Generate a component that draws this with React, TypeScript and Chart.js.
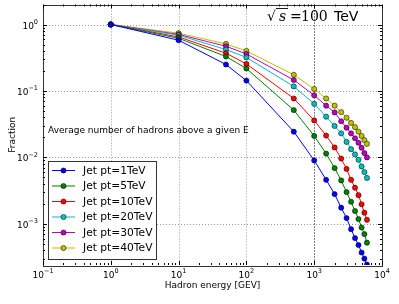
import React, { useEffect, useRef } from "react";
import { Chart, registerables } from "chart.js";
Chart.register(...registerables);

const ENERGIES = [1, 10, 50, 100, 500, 1000, 1500, 2000, 2500, 3000, 3500, 4000, 4500, 5000, 5500, 6000];
const SERIES_LABELS = ["Jet pt=1TeV", "Jet pt=5TeV", "Jet pt=10TeV", "Jet pt=20TeV", "Jet pt=30TeV", "Jet pt=40TeV"];
const SERIES_COLORS = ["#0000ff", "#007f00", "#ff0000", "#00bfbf", "#bf00bf", "#bfbf00"];
const JET_1 = [1, 0.58, 0.25, 0.143, 0.0244, 0.009, 0.0046, 0.0028, 0.00175, 0.00122, 0.00083, 0.00061, 0.00048, 0.00037, 0.0003, 0.000244];
const JET_5 = [1, 0.62, 0.33, 0.218, 0.0515, 0.021, 0.0114, 0.0069, 0.0045, 0.003, 0.00215, 0.00156, 0.00118, 0.00088, 0.0007, 0.00052];
const JET_10 = [1, 0.65, 0.37, 0.255, 0.077, 0.036, 0.0213, 0.0141, 0.0096, 0.0067, 0.0046, 0.0035, 0.0027, 0.00197, 0.00147, 0.00115];
const JET_20 = [1, 0.69, 0.42, 0.32, 0.117, 0.064, 0.041, 0.0297, 0.023, 0.0171, 0.0133, 0.0111, 0.0092, 0.0073, 0.006, 0.0049];
const JET_30 = [1, 0.71, 0.47, 0.36, 0.146, 0.086, 0.06, 0.0475, 0.035, 0.028, 0.023, 0.0194, 0.0166, 0.014, 0.0116, 0.01];
const JET_40 = [1, 0.74, 0.51, 0.4, 0.175, 0.107, 0.077, 0.06, 0.048, 0.0395, 0.033, 0.0285, 0.0244, 0.021, 0.0182, 0.016];
const SERIES = [JET_1, JET_5, JET_10, JET_20, JET_30, JET_40];

const X_DECADES = [-1, 0, 1, 2, 3, 4];
const Y_DECADES = [0, -1, -2, -3];
const X_MIN = 0.1, X_MAX = 10000, Y_MIN = 2.4e-4, Y_MAX = 2;

const TITLE_X = "Hadron energy [GEV]";
const TITLE_Y = "Fraction";
const NOTE = "Average number of hadrons above a given E";
const ENERGY_VALUE = "100";
const ENERGY_UNIT = "TeV";

const SANS = "'DejaVu Sans', sans-serif";
const SERIF = "'DejaVu Serif', serif";

function drawPow(ctx: CanvasRenderingContext2D, exp: number, x: number, baseline: number, align: "center" | "right") {
  const base = "10";
  const e = exp < 0 ? "\u2212" + Math.abs(exp) : String(exp);
  ctx.font = `9px ${SANS}`;
  const wb = ctx.measureText(base).width;
  ctx.font = `6.5px ${SANS}`;
  const we = ctx.measureText(e).width;
  const total = wb + we;
  const left = align === "center" ? x - total / 2 : x - total;
  ctx.textAlign = "left";
  ctx.textBaseline = "alphabetic";
  ctx.font = `9px ${SANS}`;
  ctx.fillText(base, left, baseline);
  ctx.font = `6.5px ${SANS}`;
  ctx.fillText(e, left + wb, baseline - 4.5);
}

const decorPlugin = {
  id: "decor",
  beforeDatasetsDraw(chart: any) {
    const ctx: CanvasRenderingContext2D = chart.ctx;
    const a = chart.chartArea;
    const xs = chart.scales.x, ys = chart.scales.y;
    ctx.save();
    ctx.lineWidth = 1;
    ctx.setLineDash([1, 2]);
    X_DECADES.forEach((d) => {
      const v = Math.pow(10, d);
      const px = Math.round(xs.getPixelForValue(v)) + 0.5;
      if (px <= a.left + 1 || px >= a.right - 1) return;
      ctx.strokeStyle = d === 3 ? "#000" : "#999";
      ctx.beginPath();
      ctx.moveTo(px, a.top);
      ctx.lineTo(px, a.bottom);
      ctx.stroke();
    });
    Y_DECADES.forEach((d) => {
      const v = Math.pow(10, d);
      const py = Math.round(ys.getPixelForValue(v)) + 0.5;
      if (py <= a.top + 1 || py >= a.bottom - 1) return;
      ctx.strokeStyle = "#999";
      ctx.beginPath();
      ctx.moveTo(a.left, py);
      ctx.lineTo(a.right, py);
      ctx.stroke();
    });
    ctx.restore();
  },
  afterDatasetsDraw(chart: any) {
    const ctx: CanvasRenderingContext2D = chart.ctx;
    const a = chart.chartArea;
    const xs = chart.scales.x, ys = chart.scales.y;
    ctx.save();
    ctx.setLineDash([]);
    // frame
    ctx.strokeStyle = "#333";
    ctx.lineWidth = 1;
    ctx.strokeRect(Math.round(a.left) + 0.5, Math.round(a.top) + 0.5, Math.round(a.right - a.left), Math.round(a.bottom - a.top));
    // ticks
    ctx.strokeStyle = "#000";
    for (let d = -1; d <= 4; d++) {
      for (let m = 1; m <= 9; m++) {
        const v = m * Math.pow(10, d);
        if (v < X_MIN || v > X_MAX) continue;
        const px = Math.round(xs.getPixelForValue(v)) + 0.5;
        const len = m === 1 ? 4 : 2;
        ctx.beginPath();
        ctx.moveTo(px, a.bottom);
        ctx.lineTo(px, a.bottom - len);
        ctx.moveTo(px, a.top);
        ctx.lineTo(px, a.top + len);
        ctx.stroke();
      }
    }
    for (let d = -4; d <= 0; d++) {
      for (let m = 1; m <= 9; m++) {
        const v = m * Math.pow(10, d);
        if (v < Y_MIN || v > Y_MAX) continue;
        const py = Math.round(ys.getPixelForValue(v)) + 0.5;
        const len = m === 1 ? 4 : 2;
        ctx.beginPath();
        ctx.moveTo(a.left, py);
        ctx.lineTo(a.left + len, py);
        ctx.moveTo(a.right, py);
        ctx.lineTo(a.right - len, py);
        ctx.stroke();
      }
    }
    // tick labels
    ctx.fillStyle = "#000";
    X_DECADES.forEach((d) => {
      const px = xs.getPixelForValue(Math.pow(10, d));
      drawPow(ctx, d, px, a.bottom + 12.5, "center");
    });
    Y_DECADES.forEach((d) => {
      const py = ys.getPixelForValue(Math.pow(10, d));
      drawPow(ctx, d, a.left - 5, py + 4, "right");
    });
    // axis titles
    ctx.font = `9px ${SANS}`;
    ctx.textAlign = "center";
    ctx.textBaseline = "middle";
    ctx.fillText(TITLE_X, (a.left + a.right) / 2, a.bottom + 21);
    ctx.save();
    ctx.translate(13, (a.top + a.bottom) / 2);
    ctx.rotate(-Math.PI / 2);
    ctx.fillText(TITLE_Y, 0, 0);
    ctx.restore();
    // note
    ctx.textAlign = "left";
    ctx.fillText(NOTE, 48, 131);
    // energy label
    ctx.textBaseline = "alphabetic";
    const bl = 21;
    ctx.font = `14px ${SERIF}`;
    ctx.fillText("\u221A", 267, bl);
    ctx.font = `italic 14px ${SERIF}`;
    ctx.fillText("s", 279, bl);
    ctx.lineWidth = 0.9;
    ctx.beginPath();
    ctx.moveTo(276, 8.5);
    ctx.lineTo(288, 8.5);
    ctx.stroke();
    ctx.font = `14px ${SERIF}`;
    ctx.fillText("=", 290, bl);
    ctx.fillText(ENERGY_VALUE, 301, bl);
    ctx.font = `14px ${SANS}`;
    ctx.fillText(ENERGY_UNIT, 334, bl);
    // legend
    const lx = 48.5, ly = 161.5, lw = 108, lh = 98;
    ctx.fillStyle = "#fff";
    ctx.fillRect(lx, ly, lw, lh);
    ctx.strokeStyle = "#333";
    ctx.lineWidth = 1;
    ctx.strokeRect(lx, ly, lw, lh);
    chart.data.datasets.forEach((ds: any, i: number) => {
      const cy = 170.5 + i * 15.5;
      ctx.strokeStyle = ds.borderColor;
      ctx.lineWidth = 1;
      ctx.beginPath();
      ctx.moveTo(52, cy);
      ctx.lineTo(75, cy);
      ctx.stroke();
      ctx.beginPath();
      ctx.arc(63.5, cy, 2.6, 0, Math.PI * 2);
      ctx.fillStyle = ds.backgroundColor;
      ctx.fill();
      ctx.strokeStyle = "#000";
      ctx.lineWidth = 0.5;
      ctx.stroke();
      ctx.fillStyle = "#000";
      ctx.font = `10.7px ${SANS}`;
      ctx.textAlign = "left";
      ctx.textBaseline = "middle";
      ctx.fillText(ds.label, 83, cy + 0.5);
    });
    ctx.restore();
  },
};

export default function App() {
  const ref = useRef<HTMLCanvasElement | null>(null);
  useEffect(() => {
    if (!ref.current) return;
    const chart = new Chart(ref.current, {
      type: "line",
      data: {
        datasets: SERIES.map((vals, i) => ({
          label: SERIES_LABELS[i],
          data: ENERGIES.map((x, j) => ({ x, y: vals[j] })),
          borderColor: SERIES_COLORS[i],
          backgroundColor: SERIES_COLORS[i],
          borderWidth: 1,
          pointRadius: 2.6,
          pointBorderWidth: 0.5,
          pointBorderColor: "#000",
          pointBackgroundColor: SERIES_COLORS[i],
          tension: 0,
        })),
      },
      options: {
        responsive: false,
        animation: false,
        devicePixelRatio: 1,
        layout: { padding: { left: 43, right: 17, top: 2, bottom: 39 } },
        plugins: { legend: { display: false }, tooltip: { enabled: false } },
        scales: {
          x: { type: "logarithmic", min: X_MIN, max: X_MAX, display: false },
          y: { type: "logarithmic", min: Y_MIN, max: Y_MAX, display: false },
        },
      },
      plugins: [decorPlugin],
    } as any);
    return () => chart.destroy();
  }, []);
  return (
    <div style={{ position: "fixed", left: 0, top: 0, width: 399, height: 304, background: "#fff" }}>
      <canvas ref={ref} width={399} height={304} style={{ width: 399, height: 304, display: "block" }} />
    </div>
  );
}
